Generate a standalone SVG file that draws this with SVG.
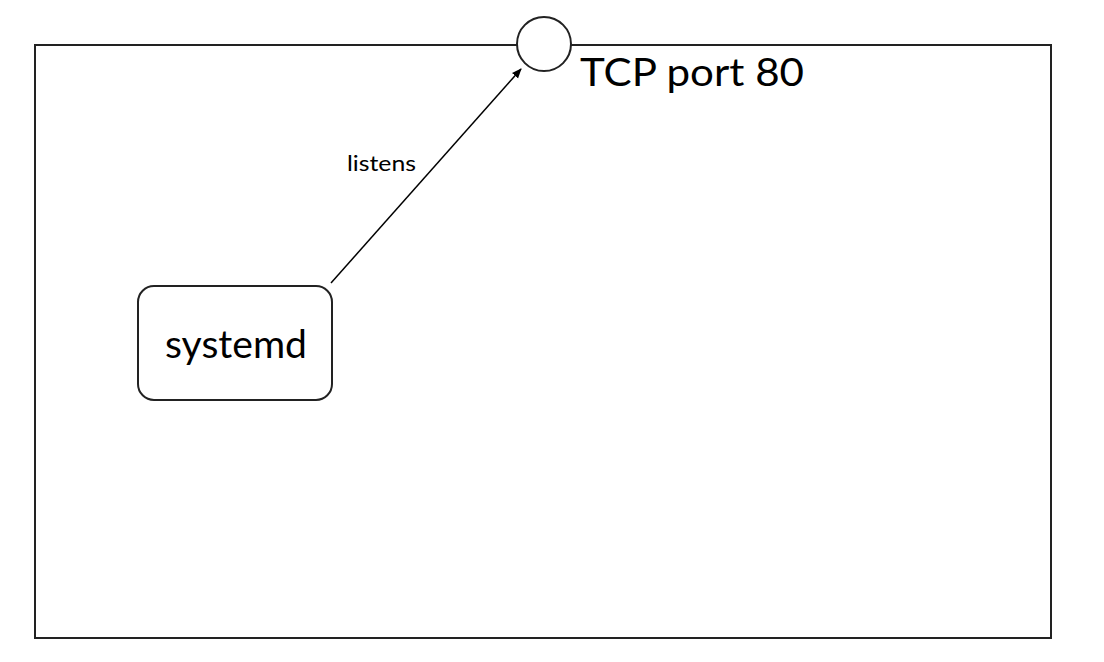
<svg xmlns="http://www.w3.org/2000/svg" width="1104" height="662" viewBox="0 0 1104 662">
<style>text{font-family:"Lato","Liberation Sans",sans-serif;fill:#000}.s{fill:none;stroke:#222;stroke-width:2}</style>
<defs><marker id="a" markerWidth="10" markerHeight="10" refX="9" refY="5" orient="auto" markerUnits="userSpaceOnUse"><path d="M0,1 L10,5 L0,9 Z" fill="#000"/></marker></defs>
<rect width="1104" height="662" fill="#fff"/>
<g id="frame"><rect class="s" x="35" y="45" width="1016" height="593"/></g>
<g id="port"><circle cx="544" cy="44" r="27" fill="#fff" stroke="#222" stroke-width="2"/><text x="580" y="86" font-size="38" textLength="224" lengthAdjust="spacingAndGlyphs">TCP port 80</text></g>
<g id="systemd"><rect class="s" x="138" y="286" width="194" height="114" rx="16"/><text x="165" y="358" font-size="38" textLength="142" lengthAdjust="spacingAndGlyphs">systemd</text></g>
<g id="connectors"><line x1="331" y1="283" x2="521" y2="69" stroke="#000" stroke-width="1.5" marker-end="url(#a)"/><text x="347" y="171" font-size="22" textLength="69" lengthAdjust="spacingAndGlyphs">listens</text></g>
</svg>
